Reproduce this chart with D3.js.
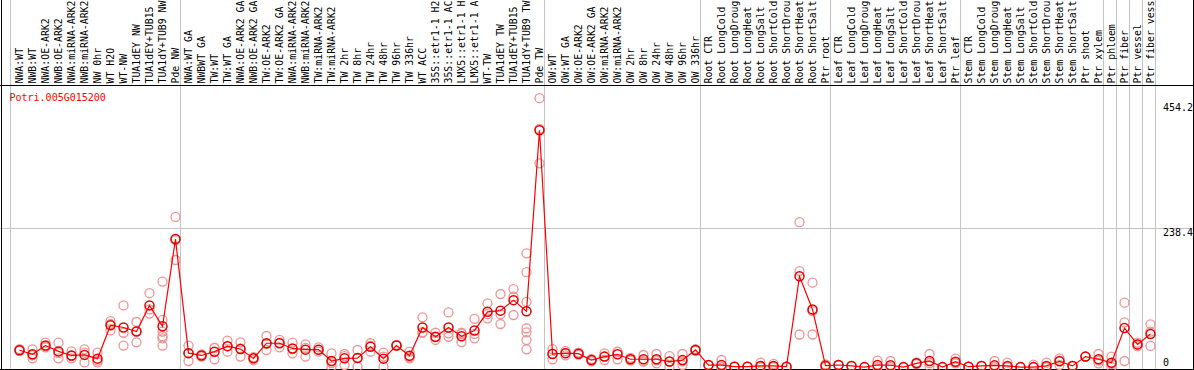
<!DOCTYPE html>
<html>
<head>
<meta charset="utf-8">
<script src="https://cdn.jsdelivr.net/npm/d3@7"></script>
<style>
  html, body { margin: 0; padding: 0; background: #fff; }
  svg { display: block; }
  text { font-family: "DejaVu Sans Mono", "Liberation Mono", monospace; font-size: 10px; }
</style>
</head>
<body>
<svg id="chart" width="1194" height="370"></svg>
<script>
const geneName = "Potri.005G015200";

// labels as shown in the reference (long ones are cut at the top edge)
const categories = [
  "NWA:WT","NWB:WT","NWA:OE-ARK2","NWB:OE-ARK2","NWA:miRNA-ARK2","NWB:miRNA-ARK2","NW 0hr","WT H2O","WT-NW",
  "TUA1dEY NW","TUA1dEY+TUB15","TUA1dY+TUB9 NW","Pde NW",
  "NWA:WT GA","NWBWT GA","TW:WT","TW:WT GA","NWA:OE-ARK2 GA","NWB:OE-ARK2 GA","TW:OE-ARK2","TW:OE-ARK2 GA",
  "NWA:miRNA-ARK2","NWB:miRNA-ARK2","TW:miRNA-ARK2","TW:miRNA-ARK2","TW 2hr","TW 8hr","TW 24hr","TW 48hr",
  "TW 96hr","TW 336hr","WT ACC","35S::etr1-1 H2","35S::etr1-1 AC","LMX5::etr1-1 H","LMX5::etr1-1 A","WT-TW",
  "TUA1dEY TW","TUA1dEY+TUB15","TUA1dY+TUB9 TW","Pde TW",
  "OW:WT","OW:WT GA","OW:OE-ARK2","OW:OE-ARK2 GA","OW:miRNA-ARK2","OW:miRNA-ARK2","OW 2hr","OW 8hr","OW 24hr",
  "OW 48hr","OW 96hr","OW 336hr",
  "Root CTR","Root LongCold","Root LongDroug","Root LongHeat","Root LongSalt","Root ShortCold","Root ShortDrou",
  "Root ShortHeat","Root ShortSalt","Ptr root",
  "Leaf CTR","Leaf LongCold","Leaf LongDroug","Leaf LongHeat","Leaf LongSalt","Leaf ShortCold","Leaf ShortDrou",
  "Leaf ShortHeat","Leaf ShortSalt","Ptr leaf",
  "Stem CTR","Stem LongCold","Stem LongDroug","Stem LongHeat","Stem LongSalt","Stem ShortCold","Stem ShortDrou",
  "Stem ShortHeat","Stem ShortSalt","Ptr shoot","Ptr xylem",
  "Ptr phloem","Ptr fiber","Ptr vessel","Ptr fiber vess"
];

const meanValues = [
  29,22,37,27,20,21,14.5,72,68,61,106,70,220,
  24,20,26.5,36,31,15,41,41,32,30,30,10.5,15,15.5,35,14.5,37,19.5,68,52,68,53,63,95,97,115,96,407,
  22.5,24,23,12,18,22,13.5,13.5,13.5,9.5,12,29.5,
  3.5,3.5,0.7,0.7,2,2,0.7,156,99,2.4,
  3.6,2,0,3.6,3.2,0,6.5,10.5,0,9.3,
  0.7,2,3,2,0,0,2,10,2,18,13.5,
  7.6,67,39,57
];

const replicateValues = [
  [28,31,29],[30.6,15,20],[42,35,34],[42,15,24],[27,15,19],[30.6,8,25],[25,11,8],[79,74,63],[106,59,37],
  [77.5,42.6,62],[127,99,92],[147,81,61,53,49.5,37],[258,184,218],
  [37,10.5,24],[22,18,20],[33,13.5,33],[45.4,26.5,36],[42.6,18,32],[17,12,16],[53.4,29.4,40],[46.6,34,42],
  [42,23.7,31],[39,18,33],[34,26.5,30],[23.7,1,7],[19,3.6,22.5],[29.4,1,16],[41,26.5,37],[24.8,1,18],
  [37,38,37],[26.5,15,17],[85.5,59,60],[59,46.6,51],[94,52,58],[59,43,57],[83,49.5,57],[109.6,83.8,91],
  [125.6,74,91],[134,89.5,121],[195.5,163,112,66.7,59.8,46.4,30.6],[462,350,409],
  [31,13.4,23],[27.5,20.2,24],[25,21,23],[14,10,12],[23.7,12.2,18],[26.5,13.4,26],[16,11,13.5],
  [20.8,9.3,10.5],[22.5,6.5,11.5],[19,0.5,9],[22.5,3.6,10],[31,28,29.5],
  [3.5,3.5],[12.2,0,0],[0.7,0.7],[0.7,0.7],[7.6,0,0],[5.5,0.5,0],[0.7,0.7],[249,165,56],[145,56,96],[4.5,1.5,1],
  [3.6,3.6],[2,2],[0,0],[11,0,0],[10.5,0,0],[0,0],[8,5,6.5],[22.5,2,7],[0,0],[14.5,7,6.5],
  [0.7,0.7],[2,2],[10.5,0,0],[7.6,0,0],[0,0],[4.2,0,0],[7.6,0,0],[15,3.6,11],[2,2],[18,18],[22.5,6.5,11],
  [17.9,0,5],[110.7,77,10.5],[42,36,39],[73.5,36.3,61]
];

// indices where a group separator is drawn (before that category index)
const groupBreaks = [0, 13, 41, 53, 63, 73, 84, 85, 86, 87, 88];
const yTickLabels = ["0", "238.4", "454.2"];
const yTickValues = [0, 238.4, 454.2];
const yGridValues = [238.4];

const W = 1194, H = 370;
const headerBottom = 85.5, plotBottom = 369.5;

const svg = d3.select("#chart");
svg.append("rect").attr("width", W).attr("height", H).attr("fill", "#fff");

const idx = d3.range(categories.length);
const x = d3.scaleBand().domain(idx).range([11, 11 + 13 * categories.length]).paddingInner(0).paddingOuter(0);
const px = i => x(i) + 8.5;
const y = d3.scaleLinear().domain([0, 454.2]).range([367.1, 102.7]);

const crisp = v => Math.floor(v) + 0.5;

// vertical separators
svg.append("g").selectAll("line").data(groupBreaks).join("line")
  .attr("x1", k => crisp(k < categories.length ? x(k) : x.range()[1]) - (k === 0 ? 1 : 0))
  .attr("x2", k => crisp(k < categories.length ? x(k) : x.range()[1]) - (k === 0 ? 1 : 0))
  .attr("y1", 0).attr("y2", plotBottom)
  .attr("stroke", "#c4c4c4").attr("stroke-width", 1);

// horizontal grid
svg.append("g").selectAll("line").data(yGridValues).join("line")
  .attr("x1", 0).attr("x2", W)
  .attr("y1", d => crisp(y(d))).attr("y2", d => crisp(y(d)))
  .attr("stroke", "#c4c4c4").attr("stroke-width", 1);

// frame
const frame = svg.append("g").attr("stroke", "#000").attr("stroke-width", 1);
frame.append("line").attr("x1", 1.5).attr("x2", 1.5).attr("y1", 0).attr("y2", H);
frame.append("line").attr("x1", 0).attr("x2", W).attr("y1", headerBottom).attr("y2", headerBottom);
frame.append("line").attr("x1", 0).attr("x2", W).attr("y1", plotBottom).attr("y2", plotBottom);
frame.append("line").attr("x1", W - 0.5).attr("x2", W - 0.5).attr("y1", 0).attr("y2", H);

// category labels (rotated)
svg.append("g").selectAll("text").data(idx).join("text")
  .attr("transform", i => `translate(${px(i) + 3.5},83.5) rotate(-90)`)
  .attr("text-anchor", "start")
  .style("font-size", "9.85px")
  .attr("fill", "#000")
  .text(i => categories[i]);

// y tick labels
svg.append("g").selectAll("text").data(yTickValues).join("text")
  .attr("x", 1163)
  .attr("y", d => Math.min(y(d) + 8, 365.5))
  .attr("fill", "#000")
  .text((d, i) => yTickLabels[i]);

// title
svg.append("text").attr("x", 9.5).attr("y", 100.5).attr("fill", "#ff0000").text(geneName);

// replicates
const reps = [];
idx.forEach(i => replicateValues[i].forEach(v => reps.push({ i, v })));
svg.append("g").selectAll("circle").data(reps).join("circle")
  .attr("cx", d => px(d.i)).attr("cy", d => y(d.v)).attr("r", 4.5)
  .attr("fill", "none").attr("stroke", "#ee9494").attr("stroke-width", 1.3);

// mean line
const line = d3.line().x(d => px(d.i)).y(d => y(d.v));
const means = idx.map(i => ({ i, v: meanValues[i] }));
svg.append("path").datum(means).attr("d", line)
  .attr("fill", "none").attr("stroke", "#ff0000").attr("stroke-width", 1.2);

// mean points
svg.append("g").selectAll("circle").data(means).join("circle")
  .attr("cx", d => px(d.i)).attr("cy", d => y(d.v)).attr("r", 4.5)
  .attr("fill", "none").attr("stroke", "#e00000").attr("stroke-width", 1.5);
</script>
</body>
</html>
